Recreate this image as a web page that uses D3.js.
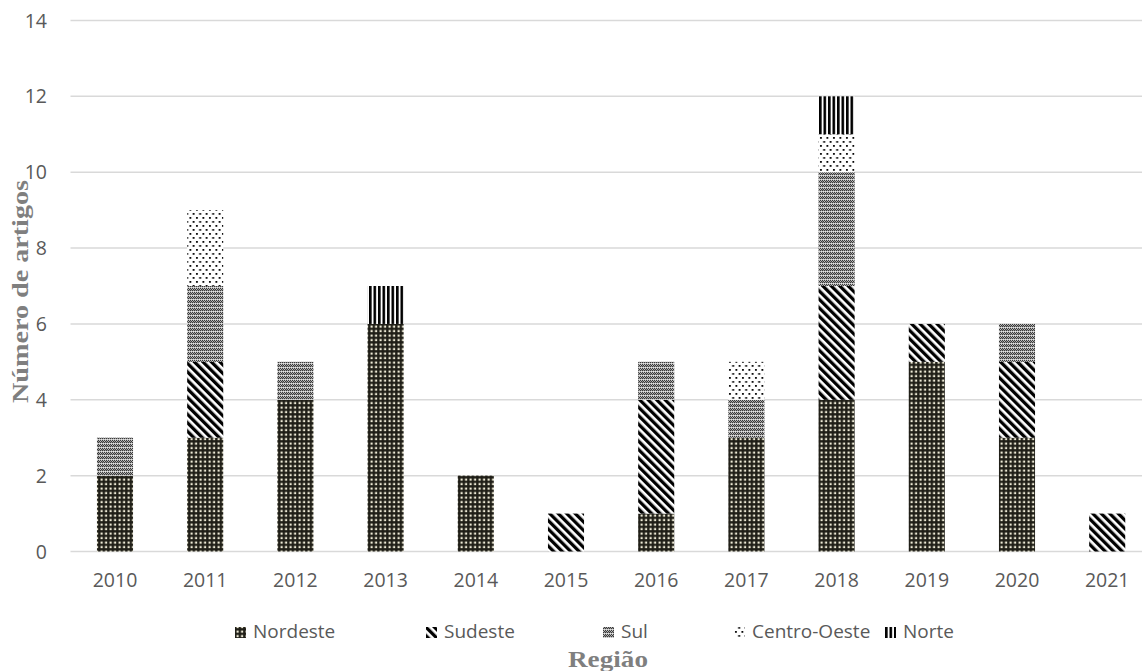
<!DOCTYPE html>
<html>
<head>
<meta charset="utf-8">
<script src="https://cdn.jsdelivr.net/npm/d3@7"></script>
<style>
  html, body { margin: 0; padding: 0; background: #fff; }
  svg { display: block; }
</style>
</head>
<body>
<svg id="chart" width="1142" height="671"></svg>
<script>
// Artigos publicados por ano e região
const years = ["2010","2011","2012","2013","2014","2015","2016","2017","2018","2019","2020","2021"];
const regions = ["Nordeste","Sudeste","Sul","Centro-Oeste","Norte"];
const nordeste    = [2, 3, 4, 6, 2, 0, 1, 3, 4, 5, 3, 0];
const sudeste     = [0, 2, 0, 0, 0, 1, 3, 0, 3, 1, 2, 1];
const sul         = [1, 2, 1, 0, 0, 0, 1, 1, 3, 0, 1, 0];
const centroOeste = [0, 2, 0, 0, 0, 0, 0, 1, 1, 0, 0, 0];
const norte       = [0, 0, 0, 1, 0, 0, 0, 0, 1, 0, 0, 0];
const yTicks = [0, 2, 4, 6, 8, 10, 12, 14];

const seriesValues = [nordeste, sudeste, sul, centroOeste, norte];
const rows = years.map((y, i) => {
  const r = { year: y };
  regions.forEach((reg, k) => { r[reg] = seriesValues[k][i]; });
  return r;
});

const svg = d3.select("#chart");
const W = 1142;
const textFont = "'Open Sans', 'Noto Sans', sans-serif";
const titleFont = "'Liberation Serif', 'Times New Roman', serif";

const x = d3.scaleBand().domain(years).range([69.9, 1152.3]).paddingInner(0.6).paddingOuter(0.3);
const y = d3.scaleLinear().domain([0, 14]).range([551.5, 20.5]);

// Fill patterns for each region
const defs = svg.append("defs");
function pat(id, w, h) {
  return defs.append("pattern").attr("id", id).attr("patternUnits", "userSpaceOnUse")
    .attr("width", w).attr("height", h);
}
// Nordeste: dark grid with light cells
{
  const p = pat("p-nordeste", 4.5, 4.5);
  p.append("rect").attr("width", 4.5).attr("height", 4.5).attr("fill", "#1e1d16");
  p.append("rect").attr("x", 1.5).attr("y", 1.5).attr("width", 2.2).attr("height", 2.2).attr("fill", "#eeead6");
}
// Sudeste: wide downward diagonal stripes
{
  const p = pat("p-sudeste", 6, 6).attr("patternTransform", "rotate(-45)");
  p.append("rect").attr("width", 6).attr("height", 6).attr("fill", "#fff");
  p.append("rect").attr("width", 3.3).attr("height", 6).attr("fill", "#000");
}
// Sul: fine checkerboard with light horizontal bands
{
  const p = pat("p-sul", 4, 4);
  p.append("rect").attr("width", 4).attr("height", 4).attr("fill", "#f4f4f4");
  [[0,0],[2,0],[1,1],[3,1],[0,2],[2,2]].forEach(([cx, cy]) => {
    p.append("rect").attr("x", cx).attr("y", cy).attr("width", 1.3).attr("height", 1.3).attr("fill", "#3a3a3a");
  });
}
// Centro-Oeste: sparse staggered dots
{
  const p = pat("p-co", 6.5, 8);
  p.append("rect").attr("width", 6.5).attr("height", 8).attr("fill", "#fff");
  p.append("rect").attr("x", 1).attr("y", 1).attr("width", 1.8).attr("height", 1.8).attr("fill", "#000");
  p.append("rect").attr("x", 4.25).attr("y", 5).attr("width", 1.8).attr("height", 1.8).attr("fill", "#000");
}
// Norte: vertical stripes
{
  const p = pat("p-norte", 4.5, 4.5);
  p.append("rect").attr("width", 4.5).attr("height", 4.5).attr("fill", "#fff");
  p.append("rect").attr("width", 2.6).attr("height", 4.5).attr("fill", "#000");
}
const fills = {
  "Nordeste": "url(#p-nordeste)",
  "Sudeste": "url(#p-sudeste)",
  "Sul": "url(#p-sul)",
  "Centro-Oeste": "url(#p-co)",
  "Norte": "url(#p-norte)"
};

// Gridlines
svg.append("g").selectAll("line").data(yTicks).join("line")
  .attr("x1", 70.5).attr("x2", W)
  .attr("y1", d => y(d)).attr("y2", d => y(d))
  .attr("stroke", "#d9d9d9").attr("stroke-width", 1.5);

// Y tick labels
svg.append("g").selectAll("text").data(yTicks).join("text")
  .attr("x", 47).attr("y", d => y(d)).attr("dy", "0.36em")
  .attr("text-anchor", "end")
  .attr("font-family", textFont).attr("font-size", 19.5)
  .attr("fill", "#595959").text(d => d);

// Stacked bars
const stack = d3.stack().keys(regions)(rows);
svg.append("g").selectAll("g").data(stack).join("g")
  .attr("fill", d => fills[d.key])
  .selectAll("rect").data(d => d.filter(s => s[1] > s[0])).join("rect")
  .attr("x", d => x(d.data.year))
  .attr("width", x.bandwidth())
  .attr("y", d => y(d[1]))
  .attr("height", d => y(d[0]) - y(d[1]));

// X tick labels
svg.append("g").selectAll("text").data(years).join("text")
  .attr("x", d => x(d) + x.bandwidth() / 2).attr("y", 587)
  .attr("text-anchor", "middle")
  .attr("font-family", textFont).attr("font-size", 19.5)
  .attr("fill", "#595959").text(d => d);

// Legend
const legendX = [235, 426, 603, 734, 885];
const lg = svg.append("g").selectAll("g").data(regions).join("g")
  .attr("transform", (d, i) => `translate(${legendX[i]},638)`);
lg.append("rect").attr("x", 0).attr("y", -11).attr("width", 11).attr("height", 11)
  .attr("fill", d => fills[d]);
lg.append("text").attr("x", 18).attr("y", 0)
  .attr("font-family", textFont).attr("font-size", 19)
  .attr("fill", "#595959").text(d => d);

// Axis titles
svg.append("text")
  .attr("transform", "translate(28,291.5) rotate(-90)")
  .attr("text-anchor", "middle")
  .attr("font-family", titleFont)
  .attr("font-weight", "bold").attr("font-size", 23)
  .attr("textLength", 223).attr("lengthAdjust", "spacingAndGlyphs")
  .attr("fill", "#7f7f7f").text("Número de artigos");

svg.append("text")
  .attr("x", 608).attr("y", 666.5)
  .attr("text-anchor", "middle")
  .attr("font-family", titleFont)
  .attr("font-weight", "bold").attr("font-size", 23)
  .attr("textLength", 80).attr("lengthAdjust", "spacingAndGlyphs")
  .attr("fill", "#7f7f7f").text("Região");
</script>
</body>
</html>
